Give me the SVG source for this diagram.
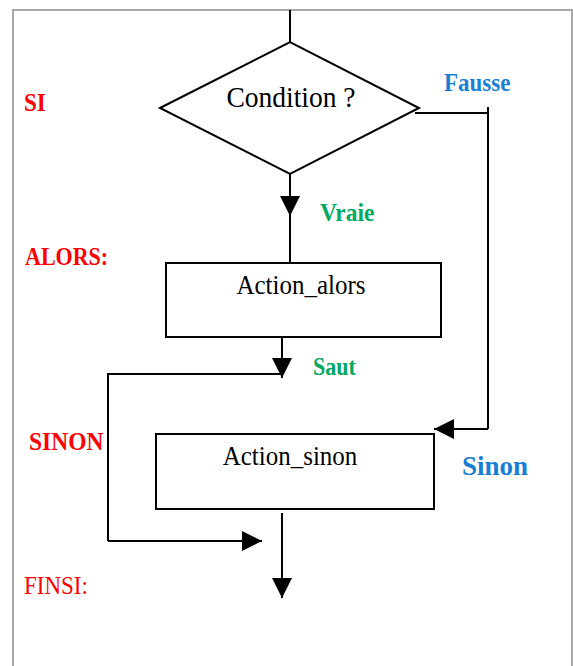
<svg xmlns="http://www.w3.org/2000/svg" width="573" height="666" viewBox="0 0 573 666">
<defs>
<style>
.ln{fill:none;stroke:#000;stroke-width:2}
.shape{fill:#fff;stroke:#000;stroke-width:2}
text{font-family:'Liberation Serif','DejaVu Serif',serif}
.t{fill:#000}
.red{fill:#ff0000}
.blue{fill:#1a7fd4;font-weight:bold}
.green{fill:#00a862;font-weight:bold}
</style>
<marker id="ah" markerUnits="userSpaceOnUse" markerWidth="20" markerHeight="20" refX="18" refY="9" orient="auto" viewBox="0 0 18 18">
<path d="M0,0 L18,9 L0,18 z" fill="#000"/>
</marker>
</defs>
<rect width="573" height="666" fill="#fff"/>
<path d="M13,666 V10 H572 V666" fill="none" stroke="#a8a8a8" stroke-width="2"/>

<g id="connectors">
<path class="ln" d="M290,10 V42"/>
<path class="ln" d="M290,174 V263"/>
<path class="ln" d="M290,174 V216" marker-end="url(#ah)"/>
<path class="ln" d="M415,113 H488 M488,107 V429"/>
<path class="ln" d="M488,429 H434" marker-end="url(#ah)"/>
<path class="ln" d="M282,330 V378" marker-end="url(#ah)"/>
<path class="ln" d="M282,374 H108 V541"/>
<path class="ln" d="M108,541 H262" marker-end="url(#ah)"/>
<path class="ln" d="M282,513 V598" marker-end="url(#ah)"/>
</g>

<g id="condition">
<polygon class="shape" points="160,108 290,42 419,108 290,174"/>
<text class="t" font-size="27.5" text-anchor="middle" transform="translate(291,107) scale(1,1.1)">Condition ?</text>
</g>

<g id="action_alors">
<rect class="shape" x="166" y="263" width="275" height="74"/>
<text class="t" font-size="25" text-anchor="middle" transform="translate(301,294) scale(1,1.1)">Action_alors</text>
</g>

<g id="action_sinon">
<rect class="shape" x="156" y="434" width="278" height="75"/>
<text class="t" font-size="25" text-anchor="middle" transform="translate(290,465) scale(1,1.1)">Action_sinon</text>
</g>

<g id="labels">
<text class="blue" font-size="23" transform="translate(444,91) scale(1,1.1)">Fausse</text>
<text class="green" font-size="23.5" transform="translate(320,221) scale(1,1.1)">Vraie</text>
<text class="green" font-size="22" transform="translate(313,375) scale(1,1.1)">Saut</text>
<text class="blue" font-size="27" transform="translate(462,475) scale(1,1.05)">Sinon</text>
<text class="red" font-size="23" font-weight="bold" transform="translate(24,111) scale(1,1.1)">SI</text>
<text class="red" font-size="22" font-weight="bold" transform="translate(25,265) scale(1,1.1)">ALORS:</text>
<text class="red" font-size="23.5" font-weight="bold" transform="translate(29,450) scale(1,1.1)">SINON</text>
<text class="red" font-size="23" transform="translate(24,594) scale(1,1.1)">FINSI:</text>
</g>
</svg>
